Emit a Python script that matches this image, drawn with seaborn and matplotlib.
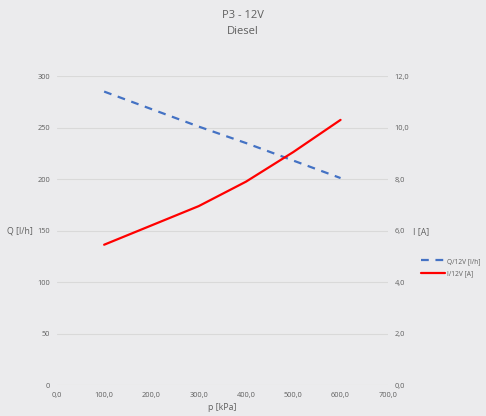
import matplotlib.pyplot as plt
import seaborn as sns
import pandas as pd
from matplotlib.ticker import FuncFormatter
from matplotlib.lines import Line2D

# 데이터
pressure = [100, 200, 300, 400, 500, 600]
flow_q = [285, 268, 251, 235, 218, 201]
current_i = [5.45, 6.2, 6.95, 7.9, 9.05, 10.3]

df = pd.DataFrame({'p': pressure, 'Q': flow_q, 'I': current_i})

sns.set_theme(style='white')
plt.rcParams['font.family'] = ['Open Sans', 'DejaVu Sans']

bg = '#ebebed'
txt = '#5f5f5f'
blue = '#4472c4'
red = '#ff0000'

fig = plt.figure(figsize=(4.86, 4.16), dpi=100, facecolor=bg)
ax = fig.add_axes([0.117, 0.0745, 0.681, 0.7425], facecolor=bg)
ax2 = ax.twinx()

sns.lineplot(data=df, x='p', y='Q', ax=ax, color=blue, linewidth=1.6, linestyle=(0, (3.5, 3)))
sns.lineplot(data=df, x='p', y='I', ax=ax2, color=red, linewidth=1.6)

ax.set_xlim(0, 700)
ax.set_ylim(0, 300)
ax2.set_ylim(0, 12)
ax.set_xticks(range(0, 701, 100))
ax.set_yticks(range(0, 301, 50))
ax2.set_yticks(range(0, 13, 2))

comma1 = FuncFormatter(lambda v, pos: f'{v:.1f}'.replace('.', ','))
ax.xaxis.set_major_formatter(comma1)
ax2.yaxis.set_major_formatter(comma1)

ax.grid(axis='y', color='#d9d9d9', linewidth=0.8)
ax.set_axisbelow(True)
for a in (ax, ax2):
    for s in a.spines.values():
        s.set_visible(False)
    a.tick_params(length=0, labelsize=5.3, labelcolor=txt, pad=5)

ax.set_xlabel('p [kPa]', fontsize=6.3, color=txt, labelpad=3)
ax.set_ylabel('')
ax2.set_ylabel('')
fig.text(0.042, 0.444, 'Q [l/h]', fontsize=6.3, color=txt, ha='center', va='center')
fig.text(0.866, 0.444, 'I [A]', fontsize=6.3, color=txt, ha='center', va='center')

fig.text(0.5, 0.962, 'P3 - 12V', fontsize=8, color=txt, ha='center', va='center')
fig.text(0.5, 0.925, 'Diesel', fontsize=8, color=txt, ha='center', va='center')

handles = [
    Line2D([], [], color=blue, linewidth=1.6, linestyle=(0, (3.5, 3))),
    Line2D([], [], color=red, linewidth=1.6),
]
fig.legend(handles, ['Q/12V [l/h]', 'I/12V [A]'], loc='center left',
           bbox_to_anchor=(0.866, 0.357), frameon=False, fontsize=4.8,
           labelcolor=txt, handlelength=3.6, handletextpad=0.3, labelspacing=0.8,
           borderpad=0, borderaxespad=0)

fig.savefig('out.png', dpi=100, facecolor=bg)
